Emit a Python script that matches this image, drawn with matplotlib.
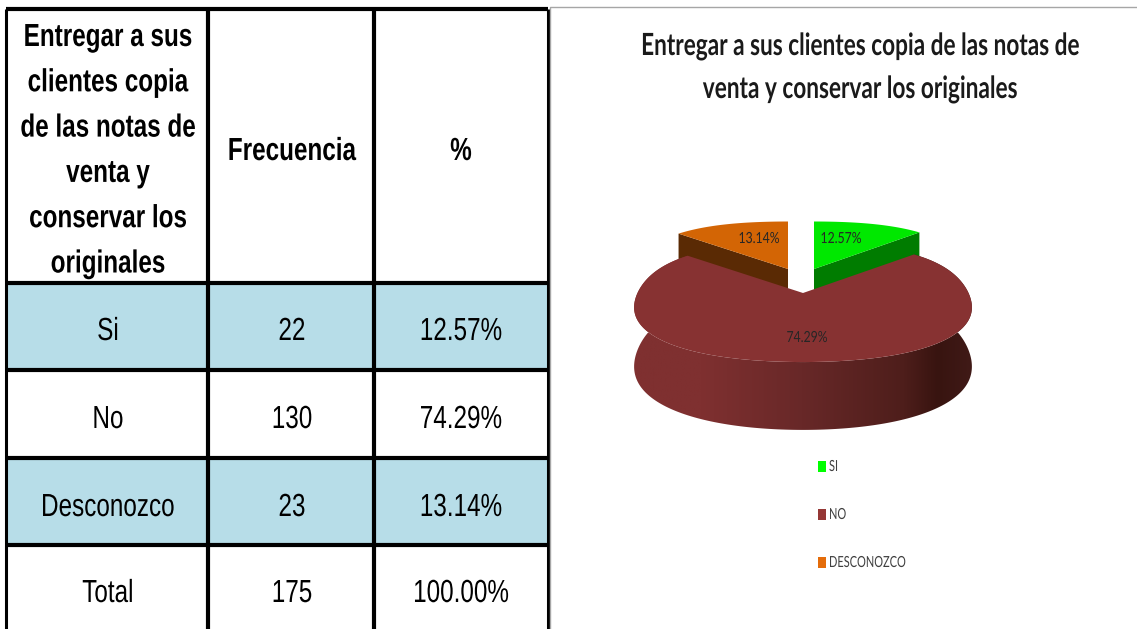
import numpy as np
import matplotlib
matplotlib.use('Agg')
import matplotlib.pyplot as plt
from matplotlib.colors import LinearSegmentedColormap
from matplotlib.patches import Polygon, Rectangle
from matplotlib.patheffects import AbstractPathEffect
from matplotlib.text import Text
from matplotlib.transforms import Affine2D, Bbox

title_lines = ['Entregar a sus clientes copia de las notas de', 'venta y conservar los originales']
header_lines = ['Entregar a sus', 'clientes copia', 'de las notas de', 'venta y', 'conservar los', 'originales']
col_headers = ['Frecuencia', '%']
row_names = ['Si', 'No', 'Desconozco', 'Total']
frecuencia = [22, 130, 23, 175]
porcentaje = ['12.57%', '74.29%', '13.14%', '100.00%']
legend_names = ['SI', 'NO', 'DESCONOZCO']
pie_values = [22, 130, 23]
pie_labels = ['12.57%', '74.29%', '13.14%']

fig = plt.figure(figsize=(11.37, 6.29), dpi=100)
ax = fig.add_axes([0, 0, 1, 1])
ax.axis('off')
ax.set_xlim(0, 1137)
ax.set_ylim(629, 0)


# no narrow font is installed, so the glyph outlines get squeezed sideways around the anchor
class Squeeze(AbstractPathEffect):
    def __init__(self, sx, x0):
        super().__init__()
        self.sx = sx
        self.x0 = x0

    def draw_path(self, renderer, gc, tpath, affine, rgbFace=None):
        squeeze = Affine2D().translate(-self.x0, 0).scale(self.sx, 1).translate(self.x0, 0)
        renderer.draw_path(gc, tpath, affine + squeeze, rgbFace)


class NarrowText(Text):
    def __init__(self, x, y, s, sx=0.76, **kw):
        super().__init__(x, y, s, **kw)
        self.sx = sx

    def get_window_extent(self, renderer=None, dpi=None):
        bb = super().get_window_extent(renderer, dpi)
        x0 = self.sx_anchor
        return Bbox([[x0 + (bb.x0 - x0) * self.sx, bb.y0], [x0 + (bb.x1 - x0) * self.sx, bb.y1]])


def ntext(x, y, s, sx=0.76, family='Liberation Sans', edge=None, **kw):
    t = NarrowText(x, y, s, sx=sx, family=family, va='center', ha=kw.pop('ha', 'center'), **kw)
    ax.add_artist(t)
    if edge:
        # keep a wide line inside the figure: anchor it at its visible left or right edge
        w = Text.get_window_extent(t, fig.canvas.get_renderer()).width
        t.set_ha(edge)
        x = x - w * sx / 2 if edge == 'left' else x + w * sx / 2
        t.set_x(x)
    t.sx_anchor = ax.transData.transform((x, y))[0]
    t.set_path_effects([Squeeze(sx, t.sx_anchor)])
    return t


# table
col_x = [6, 208, 374, 548]
row_y = [9, 283, 370, 458, 545, 629]
col_c = [108, 292, 461]
for i in [0, 2]:
    ax.add_patch(Rectangle((col_x[0], row_y[i + 1]), col_x[3] - col_x[0], row_y[i + 2] - row_y[i + 1],
                           color='#b7dde8', lw=0, zorder=1))
for x, lw in zip(col_x, [2.2, 3, 3, 2.2]):
    ax.plot([x, x], [row_y[0], 629], color='black', lw=lw, solid_capstyle='butt', zorder=2)
for y in row_y[:-1]:
    ax.plot([col_x[0], col_x[3]], [y, y], color='black', lw=3, solid_capstyle='butt', zorder=2)

for i, line in enumerate(header_lines):
    ntext(col_c[0], 38 + 45.3 * i, line, edge='left', fontsize=23, fontweight='bold')
for x, name in zip(col_c[1:], col_headers):
    ntext(x, 152, name, fontsize=23, fontweight='bold')
for y, a, b, c in zip([332, 420, 508, 594], row_names, frecuencia, porcentaje):
    ntext(col_c[0], y, a, fontsize=23)
    ntext(col_c[1], y, str(b), fontsize=23)
    ntext(col_c[2], y, c, fontsize=23)

# chart frame
ax.plot([550, 550, 1137], [629, 7, 7], color='#a6a6a6', lw=1, zorder=2)
for y, line in zip([46, 89], title_lines):
    ntext(860, y, line, sx=0.74, family='Lato', edge='right', fontsize=22, fontweight='bold', color='#1a1a1a')


# pie with a small perspective, angles measured clockwise from the back
def project(apex, deg, depth=0, scale=1.0):
    t = np.radians(deg)
    # rim bulges between the axes, the reference is puffier than an ellipse
    r = 1 + 0.05 * np.sin(2 * t) ** 2
    bx, by = r * np.sin(t), r * np.cos(t)
    f = 1 / (1 + 0.16 * np.cos(t))
    return np.column_stack([apex[0] + 165.5 * scale * bx * f, apex[1] - 58 * scale * by * f + depth * f])


share = np.array(pie_values) / sum(pie_values) * 360
starts = np.concatenate([[0], np.cumsum(share)[:-1]])
apexes = [(814, 269), (803, 293), (788, 269)]
tops = ['#00e800', '#873232', '#d36505']
sides = ['#007c00', '#5c1f1f', '#5a2a04']
depth = 57

for i in [0, 2]:
    arc = project(apexes[i], np.linspace(starts[i], starts[i] + share[i], 60), scale=0.95)
    edge = arc[-1] if i == 0 else arc[0]
    ax.add_patch(Polygon([apexes[i], edge, edge + [0, 32], np.array(apexes[i]) + [0, 32]],
                         color=sides[i], lw=0, zorder=3))
    ax.add_patch(Polygon(np.vstack([[apexes[i]], arc]), color=tops[i], lw=0, zorder=4))

degs = np.linspace(starts[1], starts[1] + share[1], 240)
top_arc = project(apexes[1], degs)
low_arc = project(apexes[1], degs, depth)
side = Polygon(np.vstack([top_arc, low_arc[::-1]]), color='none', lw=0, zorder=5)
ax.add_patch(side)
grad = LinearSegmentedColormap.from_list('side', [(0, '#7f3030'), (0.2, '#7f3030'), (0.5, '#682828'),
                                                  (0.8, '#4e1e1b'), (0.9, '#381410'), (1, '#401a17')])
img = ax.imshow(np.linspace(0, 1, 256).reshape(1, -1), cmap=grad, extent=[633, 972, 440, 240],
                aspect='auto', zorder=5)
img.set_clip_path(side)
ax.add_patch(Polygon(np.vstack([[apexes[1]], top_arc]), color=tops[1], lw=0, zorder=6))

for (x, y), lab in zip([(841, 239), (807, 338), (759, 239)], pie_labels):
    ntext(x, y, lab, sx=0.8, family='Lato', fontsize=11, color='#262626', zorder=7)

# legend
legend_colors = ['#00ff00', '#953735', '#e46c0a']
for y, name, c in zip([466, 514, 562], legend_names, legend_colors):
    ax.add_patch(Rectangle((818, y - 5), 8, 11, color=c, lw=0, zorder=3))
    ntext(829, y + 1, name, sx=0.72, family='Lato', fontsize=11, color='#404040', ha='left')

ax.set_xlim(0, 1137)
ax.set_ylim(629, 0)
fig.savefig('out.png', dpi=100)
